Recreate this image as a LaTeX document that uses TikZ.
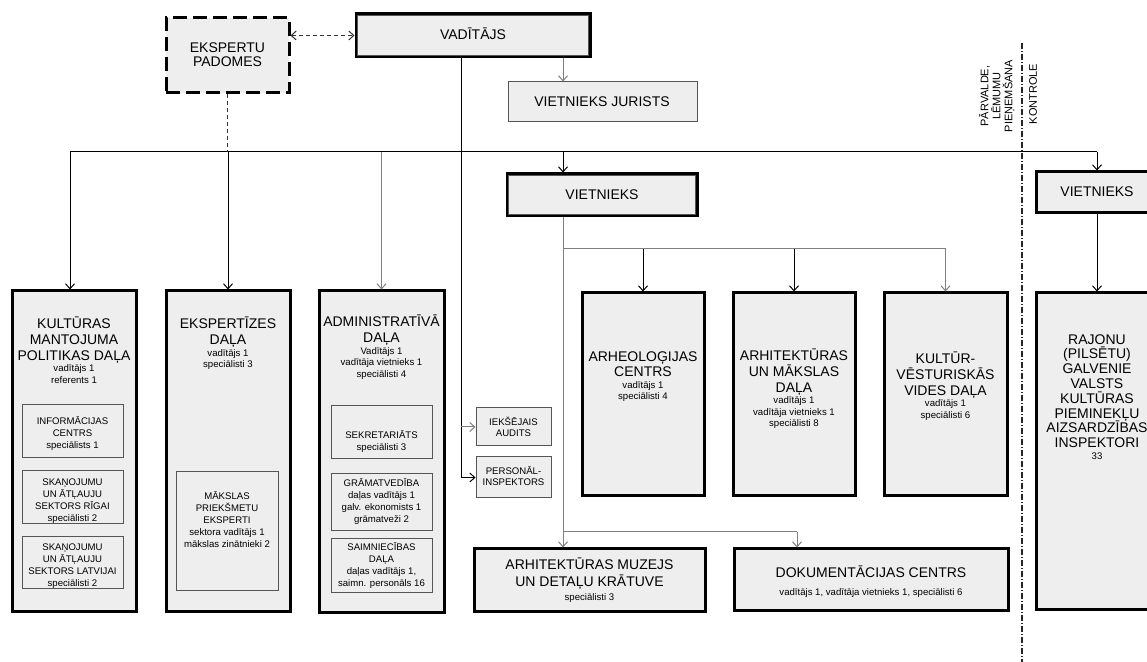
\documentclass[tikz,border=0pt]{standalone}
\usepackage{fontspec}
\setmainfont{Liberation Sans}
\usepackage{tikz}
\usetikzlibrary{fit,arrows.meta}

\definecolor{boxfill}{HTML}{EEEEEE}
\definecolor{edgegray}{HTML}{555555}
\definecolor{linkgray}{HTML}{808080}

\newcommand{\hdr}{\fontsize{7}{7.8}\selectfont}
\newcommand{\sml}{\fontsize{4.8}{5.8}\selectfont}
\newcommand{\inr}{\fontsize{4.8}{6}\selectfont}
\newcommand{\sidefont}{\fontsize{5.5}{6}\selectfont}

\begin{document}
\begin{tikzpicture}[x=0.5pt, y=-0.5pt,
		>={Straight Barb[length=2.5pt,width=4.5pt]},
		box/.style={fill=boxfill, inner sep=0pt},
		heavybox/.style={box, draw=black, line width=1.5pt},
		lightbox/.style={box, draw=edgegray, line width=0.5pt},
		expertbox/.style={box, draw=black, line width=1.5pt, dash pattern=on 7pt off 3pt},
		innerline/.style={draw=edgegray, line width=0.4pt},
		boxtext/.style={inner sep=0pt, align=center, anchor=north},
		coltext/.style={boxtext, font={\sml\lineskiplimit=-5pt}},
		inrtext/.style={boxtext, font=\inr},
		hdrtext/.style={boxtext, font=\hdr},
		sidelbl/.style={font=\sidefont, inner sep=0pt, align=center, rotate=90},
		link/.style={line width=0.5pt, ->},
		glink/.style={link, draw=linkgray},
		wire/.style={line width=0.5pt},
		gwire/.style={wire, draw=linkgray},
		dashlink/.style={line width=0.5pt, draw=black!80, dash pattern=on 2pt off 1.5pt, <->},
		dashwire/.style={line width=0.5pt, draw=black!80, dash pattern=on 2pt off 1.5pt},
		divider/.style={line width=1pt, draw=black!85, dash pattern=on 3pt off 1pt on 0.5pt off 1pt}]
		\useasboundingbox[fill=white] (0,0) rectangle (1147,662);
		% top level
		\node[expertbox, fit={(166,18) (289,93)}] (ekspp) {};
		\node[hdrtext] (eksppT) at (227.5,42) {EKSPERTU\\[-0.8pt]PADOMES};
		\node[heavybox, fit={(356,14) (590,57)}] (vad) {};
		\draw[innerline] ([shift={(3,3)}]vad.north west) rectangle ([shift={(-3,-3)}]vad.south east);
		\node[hdrtext] (vadT) at (473,27.5) {VADĪTĀJS};
		\node[lightbox, fit={(508,82) (697,122)}] (jur) {};
		\node[hdrtext] (jurT) at (602,96) {VIETNIEKS JURISTS};
		\node[heavybox, fit={(507,174) (697,216)}] (viet) {};
		\draw[innerline] ([shift={(3,3)}]viet.north west) rectangle ([shift={(-3,-3)}]viet.south east);
		\node[hdrtext] (vietT) at (602,189) {VIETNIEKS};
		\node[heavybox, fit={(1036,172) (1160,213)}] (vietR) {};
		\node[hdrtext] (vietRT) at (1097,186) {VIETNIEKS};
		% columns
		\node[heavybox, fit={(12,291) (136,612)}] (kmpd) {};
		\node[coltext] (kmpdT) at (74,317)
			{{\hdr KULTŪRAS}\\[2pt]{\hdr MANTOJUMA}\\[2pt]{\hdr POLITIKAS DAĻA}\\vadītājs 1\\referents 1};
		\node[lightbox, fit={(22,405) (123,458)}] (info) {};
		\node[inrtext] (infoT) at (72.5,416.6) {INFORMĀCIJAS\\CENTRS\\speciālists 1};
		\node[lightbox, fit={(22,471) (123,524)}] (skr) {};
		\node[inrtext] (skrT) at (72.5,478.6) {SKAŅOJUMU\\UN ĀTĻAUJU\\SEKTORS RĪGAI\\speciālisti 2};
		\node[lightbox, fit={(22,537) (123,589)}] (skl) {};
		\node[inrtext] (sklT) at (72.5,543.6) {SKAŅOJUMU\\UN ĀTĻAUJU\\SEKTORS LATVIJAI\\speciālisti 2};

		\node[heavybox, fit={(166,291) (290,612)}] (ekspd) {};
		\node[coltext] (ekspdT) at (228,317)
			{{\hdr EKSPERTĪZES}\\[2pt]{\hdr DAĻA}\\vadītājs 1\\speciālisti 3};
		\node[lightbox, fit={(176,472) (278,591)}] (mpe) {};
		\node[inrtext] (mpeT) at (227,491.6)
			{MĀKSLAS\\PRIEKŠMETU\\EKSPERTI\\sektora vadītājs 1\\mākslas zinātnieki 2};

		\node[heavybox, fit={(319,291) (444,613)}] (adm) {};
		\node[coltext] (admT) at (381.5,315)
			{{\hdr ADMINISTRATĪVĀ}\\[2pt]{\hdr DAĻA}\\Vadītājs 1\\vadītāja vietnieks 1\\speciālisti 4};
		\node[lightbox, fit={(331,406) (432,459)}] (sekr) {};
		\node[inrtext] (sekrT) at (381.5,430.6) {SEKRETARIĀTS\\speciālisti 3};
		\node[lightbox, fit={(331,474) (432,531)}] (gram) {};
		\node[inrtext] (gramT) at (381.5,478.6) {GRĀMATVEDĪBA\\daļas vadītājs 1\\galv. ekonomists 1\\grāmatveži 2};
		\node[lightbox, fit={(331,539) (432,593)}] (saim) {};
		\node[inrtext] (saimT) at (381.5,542.6) {SAIMNIECĪBAS\\DAĻA\\daļas vadītājs 1,\\saimn. personāls 16};

		\node[lightbox, fit={(476,408) (551,446)}] (aud) {};
		\node[inrtext] (audT) at (513.5,417) {IEKŠĒJAIS\\[-0.5pt]AUDITS};
		\node[lightbox, fit={(476,457) (551,498)}] (pers) {};
		\node[inrtext] (persT) at (513.5,466.5) {PERSONĀL-\\[-0.5pt]INSPEKTORS};

		\node[heavybox, fit={(582,293) (704,496)}] (arh) {};
		\node[coltext] (arhT) at (643,351)
			{{\hdr ARHEOLOĢIJAS}\\[2pt]{\hdr CENTRS}\\vadītājs 1\\speciālisti 4};
		\node[heavybox, fit={(733,293) (855,496)}] (arm) {};
		\node[coltext] (armT) at (794,349)
			{{\hdr ARHITEKTŪRAS}\\[2pt]{\hdr UN MĀKSLAS}\\[2pt]{\hdr DAĻA}\\vadītājs 1\\vadītāja vietnieks 1\\speciālisti 8};
		\node[heavybox, fit={(884,293) (1007,496)}] (kvv) {};
		\node[coltext] (kvvT) at (945.5,352)
			{{\hdr KULTŪR-}\\[2pt]{\hdr VĒSTURISKĀS}\\[2pt]{\hdr VIDES DAĻA}\\vadītājs 1\\speciālisti 6};
		\node[heavybox, fit={(1036,293) (1160,610)}] (raj) {};
		\node[coltext] (rajT) at (1097,334)
			{{\hdr RAJONU}\\[1.6pt]{\hdr (PILSĒTU)}\\[1.6pt]{\hdr GALVENIE}\\[1.6pt]{\hdr VALSTS}\\[1.6pt]{\hdr KULTŪRAS}\\[1.6pt]{\hdr PIEMINEKĻU}\\[1.6pt]{\hdr AIZSARDZĪBAS}\\[1.6pt]{\hdr INSPEKTORI}\\33};

		\node[heavybox, fit={(474,549) (705,612)}] (muz) {};
		\node[coltext] (muzT) at (589.5,558)
			{{\hdr ARHITEKTŪRAS MUZEJS}\\[2.7pt]{\hdr UN DETAĻU KRĀTUVE}\\[1.2pt]speciālisti 3};
		\node[heavybox, fit={(734,549) (1008,611)}] (dok) {};
		\node[coltext] (dokT) at (871,566)
			{{\hdr DOKUMENTĀCIJAS CENTRS}\\[3.2pt]vadītājs 1, vadītāja vietnieks 1, speciālisti 6};

		% divider
		\coordinate (divT) at (1022,43);
		\coordinate (divB) at (1022,662);
		\draw[divider] (divT) -- (divB);
		\node[sidelbl] (plp) at (997,96) {PĀRVALDE,\\LĒMUMU\\PIEŅEMŠANA};
		\node[sidelbl] (ktr) at (1033,94) {KONTROLE};

		% connectors
		\coordinate (trunk) at (461,0);
		\coordinate (vj) at (563,0);
		\coordinate (busL) at (70,152);
		\coordinate (busR) at (1097,152);
		\coordinate (brV) at (0,249);
		\coordinate (brM) at (0,532);
		\coordinate (dk) at (797,0);
		\draw[dashlink] (ekspp.east |- vad.west) -- (vad.west);
		\draw[glink] (vad.south -| vj) -- (jur.north -| vj);
		\draw[link] (vad.south -| trunk) -- (trunk |- pers.west) -- (pers.west);
		\draw[glink] (trunk |- aud.west) -- (aud.west);
		\draw[wire] (busL) -- (busR);
		\draw[dashwire] (ekspp.south) -- (ekspp.south |- busL);
		\draw[link] (busL) -- (busL |- kmpd.north);
		\draw[link] (ekspd.north |- busL) -- (ekspd.north);
		\draw[glink] (adm.north |- busL) -- (adm.north);
		\draw[link] (vj |- busL) -- (viet.north -| vj);
		\draw[link] (busR) -- (vietR.north -| busR);
		\draw[link] (vietR.south -| busR) -- (raj.north -| busR);
		\draw[glink] (viet.south -| vj) -- (muz.north -| vj);
		\draw[gwire] (vj |- brV) -- (kvv.north |- brV);
		\draw[link] (arh.north |- brV) -- (arh.north);
		\draw[link] (arm.north |- brV) -- (arm.north);
		\draw[glink] (kvv.north |- brV) -- (kvv.north);
		\draw[gwire] (vj |- brM) -- (dk |- brM);
		\draw[glink] (dk |- brM) -- (dok.north -| dk);
	\end{tikzpicture}
\end{document}
